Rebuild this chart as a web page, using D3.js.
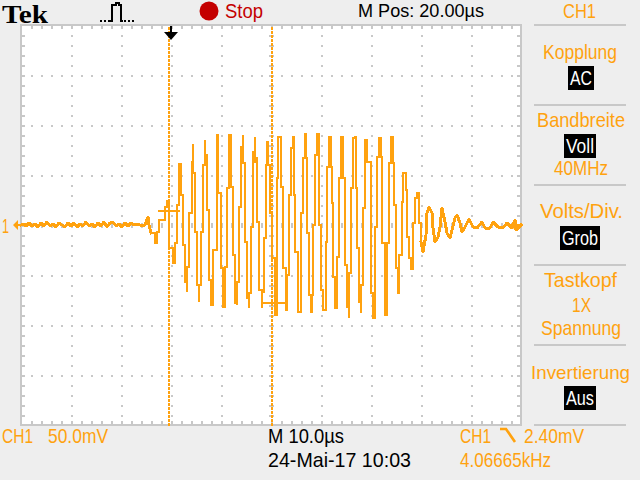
<!DOCTYPE html>
<html><head><meta charset="utf-8">
<style>html,body{margin:0;padding:0;background:#eee}svg{display:block}</style>
<script src="https://cdn.jsdelivr.net/npm/d3@7"></script></head><body>
<svg id="c" width="640" height="480"></svg>
<script>
// Waveform vertices: display sample number (0-500, 5 samples = 1 us) and CH1 voltage in mV
const traceSample = [0,3,5,8,11,14,17,20,23,26,29,32,35,38,41,44,47,50,53,56,59,62,65,68,71,74,77,80,83,86,89,92,95,98,101,104,107,110,113,116,119,124,
127,128,130,134,136,138,142,144,146,148,148,152,152,154,154,156,156,158,158,160,160,162,162,164,164,166,166,168,168,171,171,172,172,174,176,176,178,178,180,180,182,184,184,186,186,188,188,190,190,192,192,195,196,197,197,200,200,202,202,204,206,206,208,210,210,212,214,214,216,216,218,220,222,222,224,224,226,226,228,228,230,232,234,234,236,236,238,238,241,241,243,245,246,247,249,251,254,254,256,256,257,260,260,262,262,265,265,266,268,270,272,273,274,277,277,280,280,282,282,284,285,286,286,288,288,290,291,292,294,296,298,298,300,302,305,305,306,308,310,311,312,312,314,316,316,318,318,320,322,324,324,326,328,328,330,332,334,335,336,338,338,340,340,342,344,346,349,350,350,352,354,356,358,360,361,364,364,366,366,368,370,372,373,375,375,377,378,378,381,382,385,385,386,386,388,388,390,392,392,394,396,398,398,400,402,405,406,408,411,412,414,417,419,421,424,426,429,434,436,439,441,444,448,452,456,461,464,469,472,477,482,486,491,494,495,500];
const traceMv = [0,1,-1,2,-1,1,-2,2,-1,3,-1,1,-2,2,0,-2,2,-1,2,-2,1,-1,3,-1,1,-2,2,-1,3,-2,2,3,-1,1,-2,2,-1,2,0,1,0,0,
8,0,-8,-18,-7,5,5,18,24,14,-23,-24,-38,-38,-18,-18,20,20,61,61,30,30,-20,-20,-57,-67,-42,-42,12,12,63,81,52,-7,-7,-60,-77,-60,-60,-7,60,85,70,60,15,14,-55,-57,-80,-80,-25,-25,90,90,32,32,-43,-43,-82,-42,-42,37,90,90,38,-30,-30,-78,-80,-57,18,78,90,62,62,-17,-17,-73,-83,-68,-2,73,88,63,68,3,3,-65,-83,-67,-13,60,83,60,12,-33,-33,-90,-43,47,88,88,38,38,-43,-45,-85,-50,30,77,88,30,-27,-27,-87,-62,12,12,67,91,67,67,-8,-10,-70,-87,-70,0,70,91,70,0,-65,-85,-80,-17,58,88,58,22,22,-52,-83,-52,-32,-32,47,88,47,37,-40,-82,-93,-48,37,87,88,37,-23,-25,-77,-88,-60,17,85,63,63,-8,-68,-93,-2,68,87,68,-18,-63,-90,-70,-18,62,88,62,20,20,-43,-68,-43,-30,23,52,52,35,35,-12,-12,-33,-44,-33,2,27,32,26,2,-17,-27,-10,12,18,12,-3,-17,-12,-2,17,3,-8,-13,7,10,2,-7,-2,6,-2,-3,3,-3,-3,3,-2,-3,2,-3,5,-5,0];
// Two short horizontal strokes in the capture: [from sample, to sample, mV]
const strokeFrom = [137,241];
const strokeTo = [159,264];
const strokeMv = [14,-78];
// Cursors, in display samples
const cursorSamples = [148,251];
const triggerSample = 150;
// Graticule divisions
const xDivisions = d3.range(0,501,50);
const yDivisions = d3.range(-200,201,50);
const tickSamples = d3.range(0,501,10);
const tickMv = d3.range(-200,201,10);
// Side menu
const menuSeparators = [25,105,185,265,345,425];

const ORANGE="#ffa20f", GRID="#c8c8c8";
const svg=d3.select("#c");
const x=d3.scaleLinear().domain([0,500]).range([21,521]);
const y=d3.scaleLinear().domain([-200,200]).range([425,25]);

svg.append("rect").attr("width",640).attr("height",480).attr("fill","#eeeeee");
svg.append("rect").attr("x",21).attr("y",25).attr("width",500).attr("height",400).attr("fill","#fff");

// graticule
const g=svg.append("g").attr("shape-rendering","crispEdges").attr("fill",GRID);
g.append("rect").attr("x",20).attr("y",24).attr("width",502).attr("height",2);
g.append("rect").attr("x",20).attr("y",424).attr("width",502).attr("height",2);
g.append("rect").attr("x",20).attr("y",24).attr("width",2).attr("height",402);
g.append("rect").attr("x",520).attr("y",24).attr("width",2).attr("height",402);
tickSamples.forEach(s=>{
  if(s%500===0) return;
  g.append("rect").attr("x",x(s)).attr("y",26).attr("width",2).attr("height",3);
  g.append("rect").attr("x",x(s)).attr("y",421).attr("width",2).attr("height",3);
});
tickMv.forEach(m=>{
  if(Math.abs(m)===200) return;
  g.append("rect").attr("x",22).attr("y",y(m)).attr("width",3).attr("height",2);
  g.append("rect").attr("x",517).attr("y",y(m)).attr("width",3).attr("height",2);
});
xDivisions.slice(1,-1).forEach(s=>{
  tickMv.slice(1,-1).forEach(m=>{
    if(s===250) g.append("rect").attr("x",x(s)-2).attr("y",y(m)).attr("width",5).attr("height",2);
    else g.append("rect").attr("x",x(s)).attr("y",y(m)).attr("width",2).attr("height",2);
  });
});
yDivisions.slice(1,-1).forEach(m=>{
  tickSamples.slice(1,-1).forEach(s=>{
    if(m===0) g.append("rect").attr("x",x(s)).attr("y",y(m)-2).attr("width",2).attr("height",5);
    else g.append("rect").attr("x",x(s)).attr("y",y(m)).attr("width",2).attr("height",2);
  });
});

// cursors
cursorSamples.forEach(s=>{
  d3.range(27,425,4).forEach(py=>{
    svg.append("rect").attr("x",x(s)-1).attr("y",py).attr("width",2).attr("height",3).attr("fill",ORANGE).attr("shape-rendering","crispEdges");
  });
});

// trace: stepped through the burst, direct through the quiet parts
const idx=d3.range(traceSample.length);
const burst=idx.filter(i=>traceSample[i]>=130&&traceSample[i]<=400);
const before=idx.filter(i=>traceSample[i]<=130);
const after=idx.filter(i=>traceSample[i]>=400);
const stepLine=d3.line().curve(d3.curveStepAfter).x(i=>x(traceSample[i])).y(i=>y(traceMv[i]));
const directLine=d3.line().x(i=>x(traceSample[i])).y(i=>y(traceMv[i]));
svg.append("path").attr("d",stepLine(burst)).attr("fill","none")
  .attr("stroke",ORANGE).attr("stroke-width",2.6).attr("stroke-linejoin","miter")
  .attr("stroke-linecap","square").attr("shape-rendering","crispEdges");
[before,after].forEach(part=>{
  svg.append("path").attr("d",directLine(part)).attr("fill","none")
    .attr("stroke",ORANGE).attr("stroke-width",3).attr("stroke-linejoin","round")
    .attr("stroke-linecap","square").attr("shape-rendering","crispEdges");
});
strokeFrom.forEach((f,i)=>{
  svg.append("line").attr("x1",x(f)).attr("x2",x(strokeTo[i])).attr("y1",y(strokeMv[i])).attr("y2",y(strokeMv[i]))
    .attr("stroke",ORANGE).attr("stroke-width",2).attr("shape-rendering","crispEdges");
});

// level markers
const lx=x(0), ly=y(0);
svg.append("path").attr("d",`M${lx-8},${ly}L${lx-3},${ly-5}L${lx-3},${ly-1}L${lx+1},${ly-1}L${lx+1},${ly+1}L${lx-3},${ly+1}L${lx-3},${ly+5}Z`).attr("fill",ORANGE);
const rx=x(500);
svg.append("path").attr("d",`M${rx-11},${ly}L${rx-6},${ly-5}L${rx-6},${ly-1}L${rx+1},${ly-1}L${rx+1},${ly+1}L${rx-6},${ly+1}L${rx-6},${ly+5}Z`).attr("fill",ORANGE);

// trigger arrow
const tx=x(triggerSample);
svg.append("path").attr("d",`M${tx-1},26H${tx+1}V32H${tx+7}L${tx},40L${tx-7},32H${tx-1}Z`).attr("fill","#000");

// side separators
menuSeparators.forEach(py=>svg.append("rect").attr("x",534).attr("y",py-1).attr("width",92).attr("height",2).attr("fill",GRID).attr("shape-rendering","crispEdges"));

function label(t,x0,x1,b,fill,size,fam,weight){
  svg.append("text").text(t).attr("x",x0).attr("y",b).attr("fill",fill)
    .attr("font-family",fam||"'Liberation Sans',sans-serif")
    .attr("font-size",size||21).attr("font-weight",weight||"normal")
    .attr("textLength",x1-x0).attr("lengthAdjust","spacingAndGlyphs");
}
function box(x0,x1,y0,y1){svg.append("rect").attr("x",x0).attr("y",y0).attr("width",x1-x0).attr("height",y1-y0).attr("fill","#000");}

label("Tek",2,48,22.5,"#000",24.5,"'Liberation Serif',serif","bold");
// acquisition icon
svg.append("path").attr("d","M100,21H110M124,21H136").attr("fill","none").attr("stroke","#000").attr("stroke-width",1.5).attr("stroke-dasharray","2,2").attr("shape-rendering","crispEdges");
svg.append("path").attr("d","M110,21H112V5H116V3H119V5H121V21H123").attr("fill","none").attr("stroke","#000").attr("stroke-width",1.5).attr("shape-rendering","crispEdges");
svg.append("circle").attr("cx",209).attr("cy",11).attr("r",9.5).attr("fill","#c40000");
label("Stop",225,263,18,"#c40000",20);
label("M Pos: 20.00µs",358,484,17,"#000",19);

label("CH1",563,596,18,ORANGE,20);
label("Kopplung",543,617,59,ORANGE);
box(568,594,66,90); label("AC",570,592,85,"#fff");
label("Bandbreite",537,625,127,ORANGE);
box(564,596,134,158); label("Voll",566,594,153,"#fff");
label("40MHz",554,608,175,ORANGE);
label("Volts/Div.",540,623,218,ORANGE);
box(560,600,226,250); label("Grob",562,598,245,"#fff");
label("Tastkopf",544,617,287,ORANGE);
label("1X",572,591,312,ORANGE);
label("Spannung",541,621,335,ORANGE);
label("Invertierung",531,630,379,ORANGE,19);
box(564,596,386,410); label("Aus",566,594,405,"#fff");

label("CH1",2,33,443,ORANGE);
label("50.0mV",48,108,443,ORANGE);
label("M 10.0µs",268,344,443,"#000");
label("24-Mai-17 10:03",268,411,467,"#000");
label("CH1",460,491,443,ORANGE);
svg.append("path").attr("d","M500,429H506L515,442").attr("fill","none").attr("stroke",ORANGE).attr("stroke-width",2.6);
label("2.40mV",524,584,443,ORANGE);
label("4.06665kHz",460,551,467,ORANGE);
label("1",2,9,233,ORANGE);
</script></body></html>
